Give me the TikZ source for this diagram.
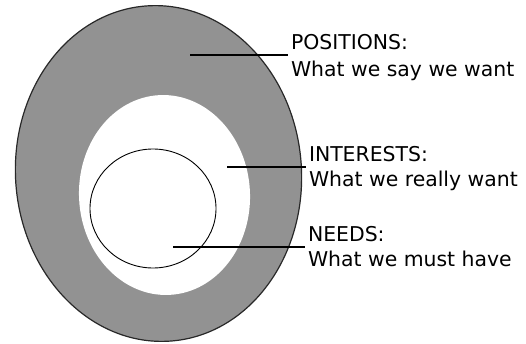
\documentclass[tikz,border=0pt]{standalone}
\usepackage{fontspec}
\setmainfont{DejaVu Sans}
\definecolor{ringgray}{RGB}{146,146,146}
\definecolor{edgegray}{RGB}{40,40,40}
\begin{document}
\begin{tikzpicture}[x=1pt,y=1pt,
  lbl/.style={anchor=base west,inner sep=0pt,outer sep=0pt,font=\fontsize{20.4}{25}\selectfont},
  leader/.style={draw=black,line width=1.3pt,shorten >=3pt}]
\useasboundingbox (0,0) rectangle (526,343);
% outer ring
\draw[fill=ringgray,draw=edgegray,line width=1.2pt,rotate around={4:(158.5,169.5)}]
  (158.5,169.5) ellipse [x radius=143,y radius=168];
% inner white area
\fill[white,rotate around={3:(164.5,148)}] (164.5,148) ellipse [x radius=85.5,y radius=100];
% smallest circle
\draw[black,line width=0.9pt] (153,134.5) ellipse [x radius=63,y radius=59.5];
% labels
\node[lbl] (posT) at (291,293) {POSITIONS:};
\node[lbl] (posS) at (291,266) {What we say we want};
\node[lbl] (intT) at (309,182) {INTERESTS:};
\node[lbl] (intS) at (309,157) {What we really want};
\node[lbl] (needT) at (308,102) {NEEDS:};
\node[lbl] (needS) at (308,77) {What we must have};
% leader start points
\coordinate (pA) at (190,288);
\coordinate (iA) at (227,176);
\coordinate (nA) at (173,96);
\draw[leader] (pA) -- (pA -| posT.west);
\draw[leader] (iA) -- (iA -| intT.west);
\draw[leader] (nA) -- (nA -| needT.west);
\end{tikzpicture}
\end{document}
